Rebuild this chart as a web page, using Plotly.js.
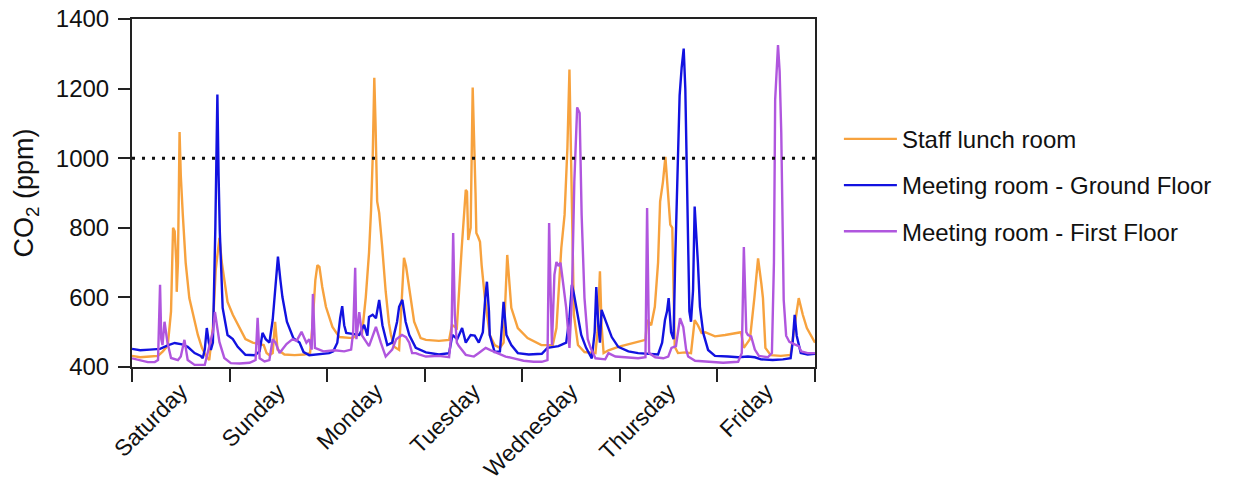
<!DOCTYPE html>
<html>
<head>
<meta charset="utf-8">
<script src="https://cdn.plot.ly/plotly-3.0.1.min.js"></script>
<style>html,body{margin:0;padding:0;background:#fff}#chart{width:1237px;height:487px}</style>
</head>
<body>
<div id="chart"></div>
<script>
// ---- data (time in hours since Saturday 00:00, CO2 in ppm) ----
const dayLabels = ["Saturday","Sunday","Monday","Tuesday","Wednesday","Thursday","Friday"];
const threshold = 1000;

const staffHours = [0,2,4.4,6.4,7.6,8.8,9.6,10.1,10.5,10.9,11.0,11.3,11.7,12.0,12.5,13.2,14.1,15.2,16.2,17.2,18.1,19.0,19.9,20.6,21.5,22.1,22.8,23.5,24.8,26.5,27.9,29.7,31.4,32.4,33.1,33.8,34.6,35.2,35.8,37.5,40.0,42.4,43.8,44.4,45.1,45.6,46.1,46.8,47.7,48.5,49.3,51.0,54.2,56.6,57.5,58.3,58.8,59.2,59.6,59.9,60.3,60.8,61.2,61.5,62.4,63.2,63.7,64.5,65.7,66.4,66.9,67.4,68.2,69.4,71.0,72.3,75.5,78.0,78.7,79.9,81.1,82.1,82.4,82.7,83.3,83.8,84.5,84.7,85.1,85.6,86.0,86.8,88.0,89.2,90.5,91.4,92.3,93.3,94.9,97.3,100.7,103.5,104.4,105.6,106.4,107.1,107.6,108.2,108.7,109.7,111.3,114.0,114.5,115.1,115.5,116.0,117.2,119.6,122.1,124.5,126.3,126.7,127.7,128.6,129.4,129.9,130.6,131.2,131.7,132.4,132.9,133.2,133.5,134.3,136.1,137.5,138.4,139.2,140.1,141.0,143.4,145.9,147.8,149.8,150.5,152.0,153.1,154.0,154.8,155.2,155.8,157.1,159.6,162.0,163.0,164.0,165.0,166.0,168];
const staffPpm   = [432,428,430,432,445,462,560,800,790,700,616,700,1075,950,837,700,598,540,492,455,434,420,515,680,771,700,640,587,550,510,480,470,465,463,440,434,440,530,450,436,434,436,440,520,650,693,688,630,573,540,515,486,483,498,600,728,850,1000,1231,1100,876,843,800,751,617,526,492,458,449,600,714,690,627,530,483,478,475,478,521,512,742,909,904,765,800,1203,900,785,775,760,693,598,492,463,455,470,722,570,512,483,463,463,512,742,837,1030,1255,900,550,463,443,440,500,675,520,440,448,458,465,472,478,535,520,573,700,875,932,1004,918,809,800,600,458,440,442,440,535,520,498,500,488,492,495,500,455,480,600,712,640,598,455,434,432,435,520,598,550,512,470];

const groundHours = [0,2,4.4,6.9,8.8,10.5,12.3,13.7,15.4,16.9,17.4,17.9,18.4,18.9,19.4,19.9,20.5,21.0,21.3,21.6,22.3,23.5,24.8,26.0,27.9,30.2,31.4,32.1,32.9,33.8,34.6,35.3,35.9,36.5,37.0,38.1,39.7,41.2,42.2,43.6,46.1,48.5,49.5,50.5,51.2,51.7,52.2,52.7,54.2,55.9,57.1,57.9,58.3,59.2,60.0,60.8,61.6,62.8,64.0,65.2,65.7,66.5,67.3,68.2,69.8,72.3,75.5,78.0,78.8,80.0,81.2,82.1,83.3,84.3,85.3,86.3,86.9,87.3,87.8,88.0,89.2,90.5,91.0,91.4,92.1,93.3,94.9,97.6,100.8,102.2,104.9,106.8,107.6,108.2,108.7,109.3,110.5,111.7,113.1,113.8,114.2,114.7,115.1,115.5,116.4,118.0,119.6,122.1,124.5,127.0,129.4,130.4,131.1,131.6,132.0,132.6,133.2,133.6,134.1,134.7,135.2,135.7,136.1,136.5,136.8,137.1,137.5,138.0,138.4,138.8,139.2,139.7,140.5,141.7,143.4,146.6,149.1,151.5,153.2,154.7,157.6,160.1,162.0,162.5,163.0,163.5,164.5,166.2,168];
const groundPpm   = [452,448,450,452,462,469,465,458,440,432,425,450,512,470,449,470,800,1183,950,789,570,492,480,458,435,434,445,498,480,470,535,640,717,650,601,530,483,470,443,434,436,440,445,470,540,575,520,498,495,492,521,490,544,550,540,593,520,463,470,530,573,593,530,492,455,442,436,440,492,480,512,470,492,490,470,500,600,645,560,492,443,445,520,587,492,463,440,436,438,455,460,470,540,636,610,570,492,455,425,500,630,520,470,564,535,486,458,445,440,438,436,470,535,560,598,500,480,700,950,1180,1260,1315,1200,900,700,560,530,620,861,785,700,573,498,449,432,430,428,430,428,422,420,422,425,470,550,490,440,436,438];

const firstHours = [0,2,3.9,5.6,6.4,6.9,7.2,7.5,8.0,8.7,9.6,11.3,12.0,12.9,13.7,15.4,17.9,18.6,19.9,20.4,21.1,21.5,22.7,24.3,26.5,28.9,30.4,30.9,31.4,32.6,33.8,34.6,35.3,36.3,38.0,39.5,40.5,41.7,42.9,43.6,44.2,44.5,45.0,47.1,49.8,52.2,53.9,54.4,54.9,55.2,55.9,56.6,58.3,60.0,61.2,62.4,64.0,65.0,66.4,67.4,68.2,68.9,69.8,70.6,72.3,75.5,78.0,78.6,79.0,79.4,79.9,80.4,82.1,84.1,85.3,87.0,88.3,90.2,91.9,93.9,96.3,98.8,100.8,102.2,102.6,103.0,103.3,103.9,104.4,104.9,105.4,106.0,106.8,107.6,108.2,108.8,109.5,110.1,110.6,111.3,112.1,112.8,114.0,116.4,117.2,118.9,122.1,124.5,126.3,126.7,127.2,128.7,130.7,131.9,132.7,133.8,134.8,135.6,136.3,136.8,138.5,141.7,145.4,149.1,150.0,150.5,151.1,151.5,152.3,153.2,154.2,156.4,157.4,157.9,158.2,158.9,159.3,159.7,160.0,160.3,160.9,161.7,163.0,164.0,164.6,166.2,168];
const firstPpm   = [425,420,414,414,420,636,480,463,530,472,426,420,430,478,420,406,406,440,501,558,510,472,426,411,410,412,420,541,425,416,420,480,470,440,466,480,475,501,470,480,450,610,455,445,448,445,450,500,685,480,558,490,460,515,470,430,450,480,492,486,470,440,440,436,430,432,428,500,785,550,470,460,435,430,440,455,448,438,430,425,418,415,415,420,814,600,463,665,702,690,700,645,570,455,600,932,1146,1130,837,598,480,455,425,422,440,430,428,425,428,857,440,428,425,430,455,460,540,515,450,430,418,415,412,415,440,745,500,492,488,450,432,428,440,700,1168,1325,1250,1073,800,593,490,472,465,460,445,440,440];

const seriesNames  = ["Staff lunch room","Meeting room - Ground Floor","Meeting room - First Floor"];
const seriesColors = ["#F7A23E","#1212E0","#B056DE"];

const yTicks = [400,600,800,1000,1200,1400];
const dayBounds = dayLabels.map((d,i)=>i*24).concat([168]);
const dayMids = dayLabels.map((d,i)=>i*24+12);

const FONT = "Liberation Sans, Arial, Helvetica, sans-serif";

const xs = [staffHours, groundHours, firstHours];
const ys = [staffPpm, groundPpm, firstPpm];
const traces = seriesNames.map((n,i)=>({
  type:"scatter", mode:"lines", name:n, legendgroup:"g"+i,
  x: xs[i], y: ys[i],
  line:{color:seriesColors[i], width:2.4}
}));

const layout = {
  width:1237, height:487,
  margin:{l:132, r:422, t:19, b:120},
  paper_bgcolor:"#fff", plot_bgcolor:"#fff",
  font:{family:FONT, color:"#111", size:24},
  showlegend:true,
  legend:{x:1.035, xanchor:"left", y:0.719, yanchor:"top", font:{size:24, family:FONT, color:"#111"},
          itemwidth:53, tracegroupgap:12, bgcolor:"rgba(0,0,0,0)"},
  xaxis:{range:[0,168], showgrid:false, zeroline:false, showline:true, mirror:true,
         linecolor:"#222", linewidth:2,
         tickmode:"array", tickvals:dayMids, ticktext:dayLabels, ticks:"", tickangle:-45,
         tickfont:{size:23, family:FONT, color:"#111"},
         minor:{tickmode:"array", tickvals:dayBounds, ticks:"outside", ticklen:13, tickwidth:2, tickcolor:"#222", showgrid:false}},
  yaxis:{range:[400,1400], showgrid:false, zeroline:false, showline:true, mirror:true,
         linecolor:"#222", linewidth:2,
         tickmode:"array", tickvals:yTicks, ticks:"outside", ticklen:12, tickwidth:2, tickcolor:"#222",
         tickfont:{size:24, family:FONT, color:"#111"}, ticklabelstandoff:4,
         title:{text:"CO<sub>2</sub> (ppm)", font:{size:27, family:FONT, color:"#111"}, standoff:14}},
  shapes:[{type:"line", xref:"paper", x0:0, x1:1, yref:"y", y0:threshold, y1:threshold,
           line:{color:"#111", width:3, dash:"3px,7px"}, layer:"above"}]
};

Plotly.newPlot("chart", traces, layout, {displayModeBar:false, staticPlot:true});
</script>
</body>
</html>
